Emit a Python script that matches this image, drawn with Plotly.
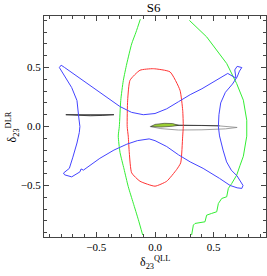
import plotly.graph_objects as go

# ---- data ----
green_left_x = [-0.125, -0.162, -0.199, -0.241, -0.270, -0.292, -0.304, -0.313, -0.298, -0.264, -0.228, -0.185, -0.142, -0.105]
green_left_y = [0.91, 0.80, 0.70, 0.53, 0.39, 0.22, 0.0, -0.08, -0.22, -0.36, -0.51, -0.65, -0.79, -0.92]

green_right_x = [0.293, 0.44, 0.611, 0.696, 0.753, 0.782, 0.782, 0.753, 0.725, 0.696, 0.654, 0.625, 0.611, 0.569, 0.54, 0.526, 0.483, 0.44, 0.426, 0.341, 0.327, 0.312]
green_right_y = [0.90, 0.76, 0.534, 0.364, 0.223, 0.053, -0.082, -0.252, -0.329, -0.413, -0.483, -0.525, -0.596, -0.61, -0.653, -0.723, -0.737, -0.752, -0.808, -0.822, -0.836, -0.92]

red_x = [-0.014, -0.128, -0.213, -0.233, -0.237, -0.228, -0.219, -0.199, -0.128, 0.0, 0.1, 0.185, 0.219, 0.236, 0.241, 0.236, 0.213, 0.128, -0.014]
red_y = [0.49, 0.477, 0.392, 0.223, 0.0, -0.082, -0.224, -0.393, -0.464, -0.506, -0.464, -0.364, -0.308, -0.082, 0.0, 0.138, 0.308, 0.463, 0.49]

blue_x = [-0.815, -0.80, -0.77, -0.70, -0.60, -0.50, -0.40, -0.30, -0.20, -0.10, 0.0, 0.10, 0.20, 0.30, 0.40, 0.50, 0.58, 0.62,
          0.69, 0.68, 0.70, 0.74, 0.72, 0.70, 0.66, 0.60, 0.56, 0.545, 0.54, 0.55, 0.58, 0.61, 0.65, 0.70, 0.75, 0.74, 0.70, 0.64,
          0.55, 0.41, 0.30, 0.20, 0.10, 0.0, -0.05, -0.15, -0.24, -0.35, -0.47, -0.55, -0.61, -0.63, -0.64, -0.71, -0.77, -0.78,
          -0.73, -0.70, -0.68, -0.665, -0.645, -0.64, -0.65, -0.665, -0.71, -0.76, -0.80, -0.815]
blue_y = [0.50, 0.52, 0.50, 0.45, 0.38, 0.31, 0.24, 0.17, 0.12, 0.10, 0.11, 0.15, 0.21, 0.27, 0.32, 0.38, 0.43, 0.45,
          0.41, 0.48, 0.51, 0.50, 0.47, 0.42, 0.36, 0.29, 0.20, 0.10, 0.0, -0.08, -0.20, -0.30, -0.37, -0.42, -0.50, -0.525, -0.52, -0.50,
          -0.44, -0.355, -0.30, -0.24, -0.17, -0.12, -0.105, -0.12, -0.15, -0.20, -0.27, -0.33, -0.37, -0.36, -0.385, -0.427, -0.41, -0.395,
          -0.355, -0.26, -0.20, -0.14, -0.05, 0.0, 0.08, 0.22, 0.33, 0.41, 0.47, 0.50]

black_left_x = [-0.76, -0.55, -0.35, -0.45, -0.55, -0.65, -0.76]
black_left_y = [0.10, 0.10, 0.10, 0.094, 0.091, 0.094, 0.10]

gray_right_x = [-0.043, 0.05, 0.2, 0.4, 0.55, 0.70, 0.6, 0.4, 0.2, 0.05, -0.043]
gray_right_y = [0.0, 0.012, 0.012, 0.008, 0.005, -0.008, -0.02, -0.028, -0.03, -0.018, 0.0]

black_right_x = [0.0, 0.2, 0.4, 0.55]
black_right_y = [0.01, 0.012, 0.009, 0.006]

yg_x = [-0.035, 0.0, 0.08, 0.15, 0.2, 0.15, 0.05, -0.035]
yg_y = [0.0, 0.018, 0.027, 0.025, 0.01, 0.002, -0.005, 0.0]

title_text = "S6"
x_label = "δ<sub>23</sub><sup>QLL</sup>"
y_label = "δ<sub>23</sub><sup>DLR</sup>"

SERIF = "Liberation Serif"

fig = go.Figure()

fig.add_trace(go.Scatter(x=black_left_x, y=black_left_y, mode="lines", fill="toself",
                         fillcolor="#999999", line=dict(color="#222222", width=0.8)))
fig.add_trace(go.Scatter(x=gray_right_x, y=gray_right_y, mode="lines", fill="toself",
                         fillcolor="white", line=dict(color="#888888", width=0.8)))
fig.add_trace(go.Scatter(x=black_right_x, y=black_right_y, mode="lines",
                         line=dict(color="#222222", width=0.8)))
fig.add_trace(go.Scatter(x=yg_x, y=yg_y, mode="lines", fill="toself",
                         fillcolor="#9acd32", line=dict(color="#333333", width=0.6)))

fig.add_trace(go.Scatter(x=green_left_x, y=green_left_y, mode="lines",
                         line=dict(color="#33ee33", width=1, shape="spline", smoothing=0.6)))
fig.add_trace(go.Scatter(x=green_right_x, y=green_right_y, mode="lines",
                         line=dict(color="#33ee33", width=1)))
fig.add_trace(go.Scatter(x=red_x, y=red_y, mode="lines",
                         line=dict(color="#ff3333", width=1, shape="spline", smoothing=0.5)))
fig.add_trace(go.Scatter(x=blue_x, y=blue_y, mode="lines",
                         line=dict(color="#4444ff", width=1)))

axis_common = dict(
    showgrid=False, zeroline=False, showline=True, mirror="ticks",
    linecolor="#444444", linewidth=1,
    ticks="inside", ticklen=5, tickcolor="#444444", tickwidth=1,
    dtick=0.5, tick0=0,
    minor=dict(ticks="inside", ticklen=3, dtick=0.1, tick0=0, tickcolor="#444444"),
    tickfont=dict(family=SERIF, size=11, color="black"),
    tickformat=".1f",
)

fig.update_xaxes(range=[-0.946, 0.946], **axis_common)
fig.update_yaxes(range=[-0.937, 0.937], **axis_common)

fig.update_layout(
    width=267, height=276,
    margin=dict(l=44, r=1, t=16, b=39),
    plot_bgcolor="white", paper_bgcolor="white",
    showlegend=False,
    title=dict(text=title_text, x=0.575, xanchor="center", y=0.99, yanchor="top",
               font=dict(family=SERIF, size=13, color="black")),
    annotations=[
        dict(text=x_label, xref="paper", yref="paper", x=0.5, y=-0.115, xanchor="center", yanchor="middle",
             showarrow=False, font=dict(family=SERIF, size=12, color="black")),
        dict(text=y_label, xref="paper", yref="paper", x=-0.14, y=0.5, xanchor="center", yanchor="middle",
             textangle=-90, showarrow=False, font=dict(family=SERIF, size=12, color="black")),
    ],
)

fig.write_html("out.html", config={"displayModeBar": False},
               post_script="document.body.style.margin='0';document.body.style.overflow='hidden';")
